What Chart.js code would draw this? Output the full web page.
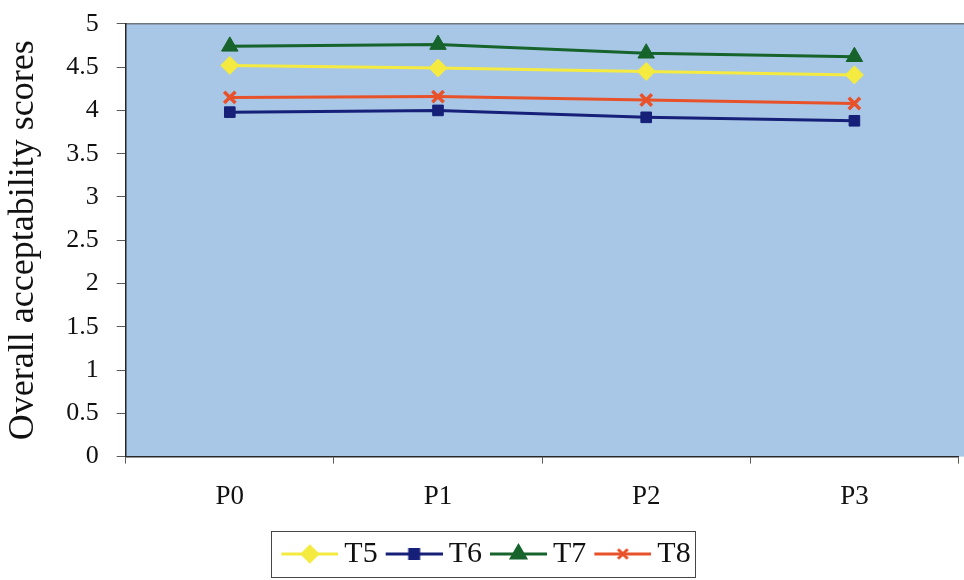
<!DOCTYPE html>
<html>
<head>
<meta charset="utf-8">
<script src="https://cdn.jsdelivr.net/npm/chart.js@4/dist/chart.umd.min.js"></script>
<style>
  html, body { margin: 0; padding: 0; background: #fff; overflow: hidden; }
  #wrap { width: 970px; height: 580px; }
</style>
</head>
<body>
<div id="wrap"><canvas id="acceptability" width="970" height="580"></canvas></div>
<script>
// Data per periode penyimpanan
var periods = ['P0', 'P1', 'P2', 'P3'];
var seriesNames = ['T5', 'T6', 'T7', 'T8'];
var valuesT5 = [4.52, 4.49, 4.45, 4.41];
var valuesT6 = [3.98, 4.00, 3.92, 3.88];
var valuesT7 = [4.74, 4.76, 4.66, 4.62];
var valuesT8 = [4.15, 4.16, 4.12, 4.08];
var yTicks = [0, 0.5, 1, 1.5, 2, 2.5, 3, 3.5, 4, 4.5, 5];

var colors = ['rgb(244,234,64)', 'rgb(22,32,120)', 'rgb(22,100,44)', 'rgb(232,82,42)'];
var styles = ['rectRot', 'rect', 'triangle', 'crossRot'];
var radii = [9, 7.5, 9.5, 8];
var fontFamily = '"Liberation Serif", "Times New Roman", serif';

// Ukuran ikon legenda
var legendBoxWidth = 48;
var legendIconWidth = 66;

// Ikon legenda: garis dengan penanda, digeser ke kanan agar dekat dengan teks
function makeLegendIcon(color, style, radius) {
  var c = document.createElement('canvas');
  c.width = legendIconWidth;
  c.height = 24;
  var ctx = c.getContext('2d');
  ctx.strokeStyle = color;
  ctx.fillStyle = color;
  ctx.lineWidth = 3;
  ctx.beginPath();
  ctx.moveTo(9, 12);
  ctx.lineTo(66, 12);
  ctx.stroke();
  Chart.helpers.drawPoint(ctx, {
    pointStyle: style,
    radius: radius * 0.85,
    rotation: 0,
    borderWidth: style === 'crossRot' ? 3 : 1
  }, 37.5, 12);
  return c;
}

var icons = seriesNames.map(function(name, i) {
  return makeLegendIcon(colors[i], styles[i], radii[i]);
});

function buildDataset(i, values) {
  return {
    label: seriesNames[i],
    data: values,
    borderColor: colors[i],
    backgroundColor: colors[i],
    borderWidth: 3,
    pointStyle: styles[i],
    pointRadius: radii[i],
    pointBorderWidth: styles[i] === 'crossRot' ? 3.5 : 1,
    tension: 0,
    fill: false
  };
}

// Latar area plot dan garis tepi atas
var plotBackground = {
  id: 'plotBackground',
  beforeDraw: function(chart) {
    var a = chart.chartArea;
    var ctx = chart.ctx;
    ctx.save();
    ctx.fillStyle = 'rgb(168,199,230)';
    ctx.fillRect(a.left, a.top, chart.width - a.left, a.bottom - a.top);
    ctx.strokeStyle = 'rgb(110,118,126)';
    ctx.lineWidth = 1.5;
    ctx.beginPath();
    ctx.moveTo(a.left, a.top);
    ctx.lineTo(chart.width, a.top);
    ctx.stroke();
    ctx.restore();
  }
};

// Bingkai di sekeliling legenda
var legendFrame = {
  id: 'legendFrame',
  afterDraw: function(chart) {
    var boxes = chart.legend.legendHitBoxes;
    if (!boxes || !boxes.length) return;
    var minX = Math.min.apply(null, boxes.map(function(b) { return b.left; }));
    var maxX = Math.max.apply(null, boxes.map(function(b) { return b.left + b.width; }));
    var minY = Math.min.apply(null, boxes.map(function(b) { return b.top; }));
    var maxY = Math.max.apply(null, boxes.map(function(b) { return b.top + b.height; }));
    var ctx = chart.ctx;
    ctx.save();
    ctx.strokeStyle = 'rgb(70,70,70)';
    ctx.lineWidth = 1;
    ctx.strokeRect(Math.round(minX - 10) + 0.5, Math.round(minY - 8) + 0.5,
      Math.round(maxX - minX + 15), Math.round(maxY - minY + 16));
    ctx.restore();
  }
};

var chart = new Chart(document.getElementById('acceptability'), {
  type: 'line',
  data: {
    labels: periods,
    datasets: [
      buildDataset(0, valuesT5),
      buildDataset(1, valuesT6),
      buildDataset(2, valuesT7),
      buildDataset(3, valuesT8)
    ]
  },
  options: {
    responsive: false,
    animation: false,
    layout: { padding: { top: 5, right: 0, left: 2, bottom: 1 } },
    scales: {
      x: {
        offset: true,
        grid: {
          offset: true,
          drawOnChartArea: false,
          drawTicks: true,
          tickLength: 7,
          color: 'rgb(90,90,90)'
        },
        border: { display: true, color: 'rgb(40,40,40)', width: 1.5 },
        ticks: {
          color: '#111',
          padding: 16,
          font: { family: fontFamily, size: 27, lineHeight: 1.31 }
        }
      },
      y: {
        min: 0,
        max: 5,
        afterBuildTicks: function(scale) {
          scale.ticks = yTicks.map(function(v) { return { value: v }; });
        },
        grid: {
          drawOnChartArea: false,
          drawTicks: true,
          tickLength: 9,
          color: 'rgb(90,90,90)'
        },
        border: { display: true, color: 'rgb(40,40,40)', width: 1.5 },
        ticks: {
          color: '#111',
          padding: 18,
          font: { family: fontFamily, size: 26, lineHeight: 0.45 },
          callback: function(value) { return String(value); }
        },
        title: {
          display: true,
          text: 'Overall acceptability scores',
          color: '#111',
          padding: { top: 0, bottom: 3 },
          font: { family: fontFamily, size: 36 }
        }
      }
    },
    plugins: {
      legend: {
        position: 'bottom',
        labels: {
          usePointStyle: true,
          pointStyleWidth: legendBoxWidth,
          boxHeight: 24,
          padding: 8,
          color: '#111',
          font: { family: fontFamily, size: 30 },
          generateLabels: function(chart) {
            return chart.data.datasets.map(function(ds, i) {
              return {
                text: ds.label,
                pointStyle: icons[i],
                fillStyle: colors[i],
                strokeStyle: colors[i],
                lineWidth: 0,
                fontColor: '#111',
                datasetIndex: i
              };
            });
          }
        }
      },
      tooltip: { enabled: false }
    }
  },
  plugins: [plotBackground, legendFrame]
});
</script>
</body>
</html>
